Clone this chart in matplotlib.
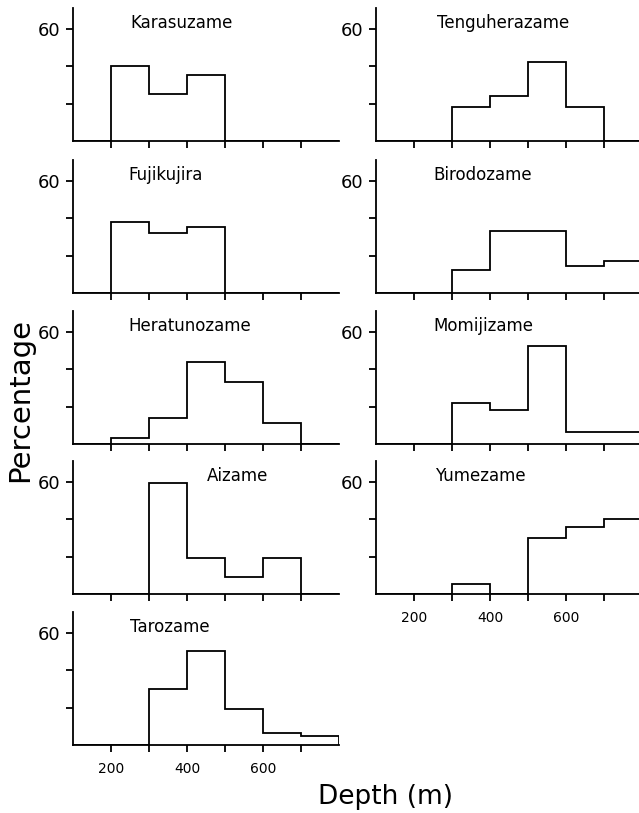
import matplotlib.pyplot as plt
import numpy as np

# depth bins (m): 100-200, 200-300, ..., 700-800
edges = [100, 200, 300, 400, 500, 600, 700, 800]

karasuzame = [0, 40, 25, 35, 0, 0, 0]
fujikujira = [0, 38, 32, 35, 0, 0, 0]
heratunozame = [0, 3, 14, 44, 33, 11, 0]
aizame = [0, 0, 59, 19, 9, 19, 0]
tarozame = [0, 0, 30, 50, 19, 6.5, 5]

tenguherazame = [0, 0, 18, 24, 42, 18, 0]
birodozame = [0, 0, 12.5, 33, 33, 14.5, 17]
momijizame = [0, 0, 22, 18, 52.5, 6.5, 6.5]
yumezame = [0, 0, 5.5, 0, 30, 36, 40]

left_col = [("Karasuzame", karasuzame, 250),
            ("Fujikujira", fujikujira, 245),
            ("Heratunozame", heratunozame, 247),
            ("Aizame", aizame, 453),
            ("Tarozame", tarozame, 250)]
right_col = [("Tenguherazame", tenguherazame, 260),
             ("Birodozame", birodozame, 250),
             ("Momijizame", momijizame, 250),
             ("Yumezame", yumezame, 255)]

xticks = [200, 300, 400, 500, 600, 700]
xticklabels = ["200", "", "400", "", "600", ""]

W, H = 639, 813
fig = plt.figure(figsize=(W / 100, H / 100), dpi=100)

baselines = [141, 293, 444, 594, 745]
panel_h = 133
panel_w = 266


def draw_panel(x0, base, name, vals, title_x, last):
    ax = fig.add_axes([x0 / W, 1 - base / H, panel_w / W, panel_h / H])
    ax.stairs(vals, edges, baseline=0, color="black", linewidth=1.3)
    ax.set_xlim(100, 800)
    ax.set_ylim(0, 71)
    for s in ["top", "right"]:
        ax.spines[s].set_visible(False)
    for s in ["left", "bottom"]:
        ax.spines[s].set_linewidth(1.3)
    ax.set_yticks([20, 40, 60])
    ax.set_yticklabels(["", "", "60"], fontsize=13)
    ax.set_xticks(xticks)
    if last:
        ax.set_xticklabels(xticklabels, fontsize=10)
    else:
        ax.set_xticklabels([""] * len(xticks))
    ax.tick_params(direction="out", length=5, width=1.3, pad=4)
    ax.tick_params(axis="x", pad=7)
    ax.text(title_x, 63, name, fontsize=12, va="center", ha="left")
    ax.patch.set_alpha(0)
    return ax


for i, (name, vals, tx) in enumerate(left_col):
    draw_panel(73, baselines[i], name, vals, tx, i == len(left_col) - 1)

for i, (name, vals, tx) in enumerate(right_col):
    draw_panel(376, baselines[i], name, vals, tx, i == len(right_col) - 1)

fig.text(20 / W, 1 - 400 / H, "Percentage", rotation=90, fontsize=21,
         ha="center", va="center")
fig.text(385 / W, 1 - 797 / H, "Depth (m)", fontsize=19,
         ha="center", va="center")

fig.savefig("out.png", dpi=100)
